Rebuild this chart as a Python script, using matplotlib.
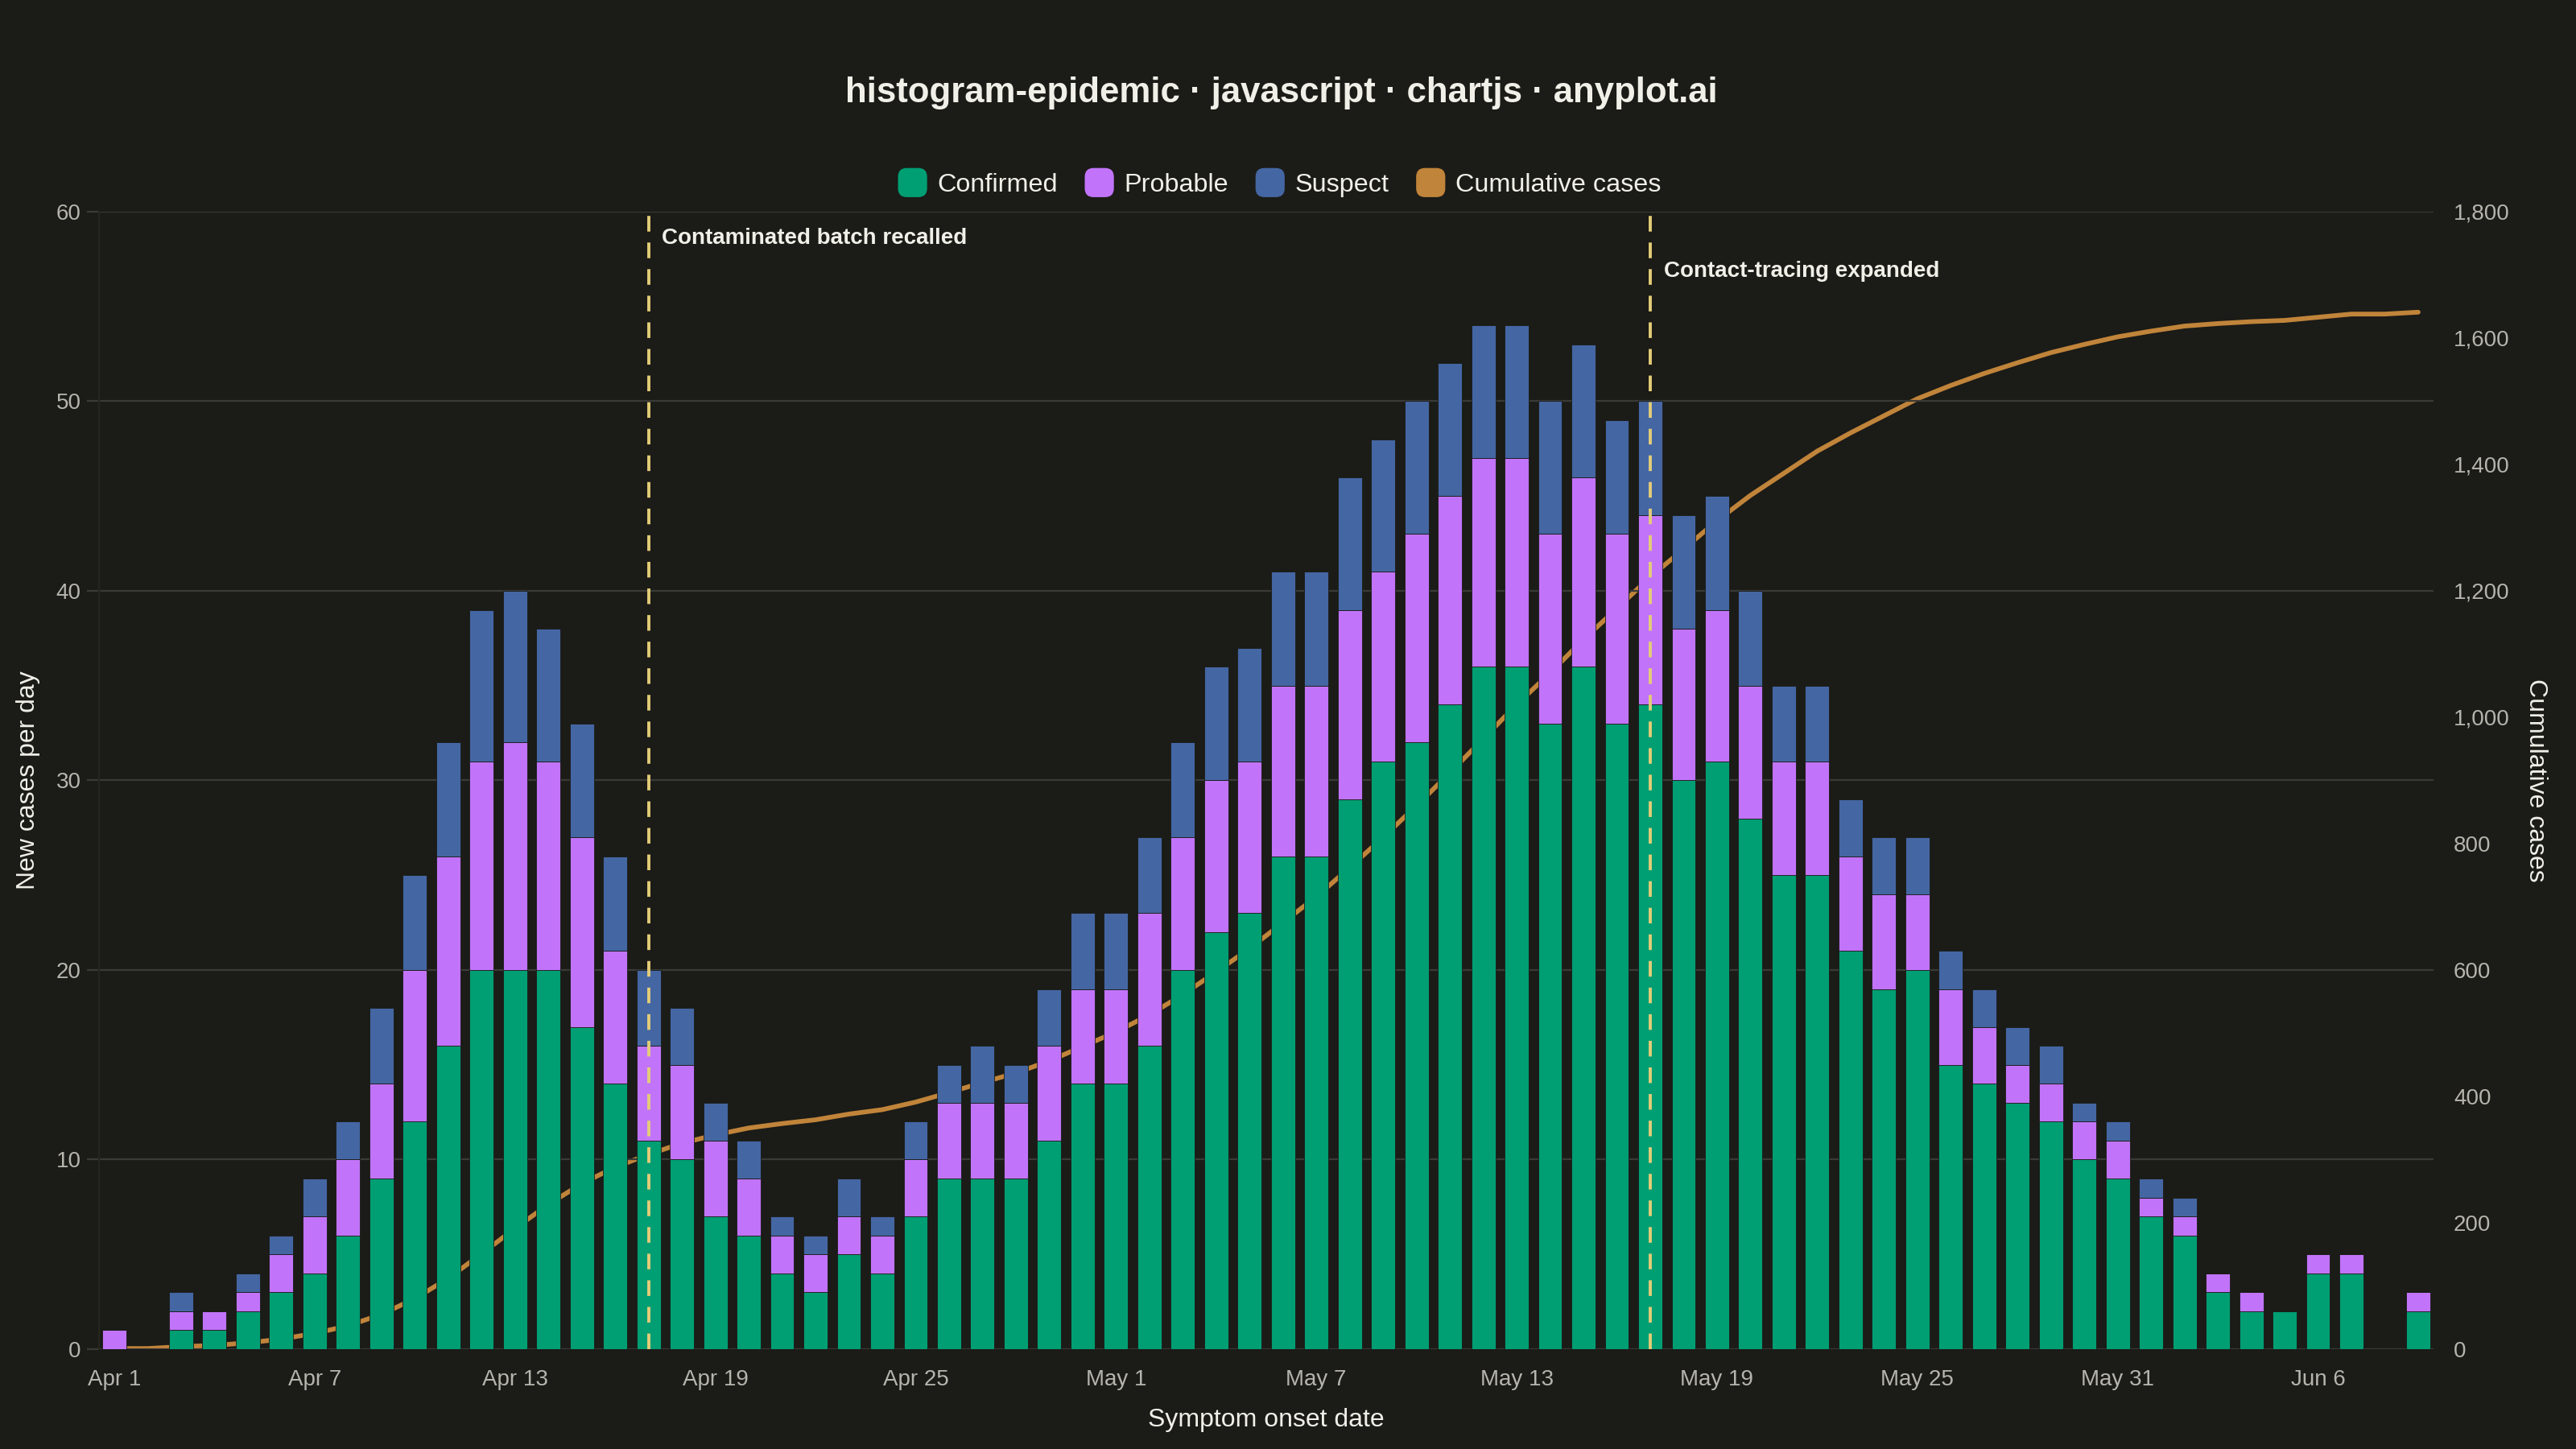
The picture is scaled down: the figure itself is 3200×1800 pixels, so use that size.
import numpy as np
import pandas as pd
import matplotlib
matplotlib.use("Agg")
import matplotlib.pyplot as plt
from matplotlib.patches import FancyBboxPatch
from matplotlib.legend_handler import HandlerPatch
from matplotlib.ticker import FuncFormatter

# daily counts by case class, Apr 1 .. Jun 9
dates = pd.date_range("2024-04-01", "2024-06-09", freq="D")
confirmed = [0, 0, 1, 1, 2, 3, 4, 6, 9, 12,
             16, 20, 20, 20, 17, 14, 11, 10, 7, 6,
             4, 3, 5, 4, 7, 9, 9, 9, 11, 14,
             14, 16, 20, 22, 23, 26, 26, 29, 31, 32,
             34, 36, 36, 33, 36, 33, 34, 30, 31, 28,
             25, 25, 21, 19, 20, 15, 14, 13, 12, 10,
             9, 7, 6, 3, 2, 2, 4, 4, 0, 2]
probable = [1, 0, 1, 1, 1, 2, 3, 4, 5, 8,
            10, 11, 12, 11, 10, 7, 5, 5, 4, 3,
            2, 2, 2, 2, 3, 4, 4, 4, 5, 5,
            5, 7, 7, 8, 8, 9, 9, 10, 10, 11,
            11, 11, 11, 10, 10, 10, 10, 8, 8, 7,
            6, 6, 5, 5, 4, 4, 3, 2, 2, 2,
            2, 1, 1, 1, 1, 0, 1, 1, 0, 1]
suspect = [0, 0, 1, 0, 1, 1, 2, 2, 4, 5,
           6, 8, 8, 7, 6, 5, 4, 3, 2, 2,
           1, 1, 2, 1, 2, 2, 3, 2, 3, 4,
           4, 4, 5, 6, 6, 6, 6, 7, 7, 7,
           7, 7, 7, 7, 7, 6, 6, 6, 6, 5,
           4, 4, 3, 3, 3, 2, 2, 2, 2, 1,
           1, 1, 1, 0, 0, 0, 0, 0, 0, 0]

events = ["Contaminated batch recalled", "Contact-tracing expanded"]
event_dates = ["2024-04-17", "2024-05-17"]
event_label_y = [58.6, 56.85]

BG = "#1b1b17"
TEXT = "#f0efe8"
MUTED = "#b5b4ad"
GRID = "#3a3a36"
C_CONF = "#009e73"
C_PROB = "#c174fa"
C_SUSP = "#4466a3"
C_CUM = "#c0843a"
C_EVENT = "#e3cc78"

plt.rcParams["font.family"] = ["Liberation Sans", "DejaVu Sans"]


class RoundedBox(HandlerPatch):
    def create_artists(self, legend, orig_handle, xdescent, ydescent,
                       width, height, fontsize, trans):
        s = height * 1.25
        x0 = -xdescent + (width - s) / 2
        y0 = -ydescent + (height - s) / 2
        p = FancyBboxPatch((x0 + s * 0.2, y0 + s * 0.2), s * 0.6, s * 0.6,
                           boxstyle=f"round,pad={s * 0.2},rounding_size={s * 0.3}",
                           facecolor=orig_handle.get_facecolor(),
                           edgecolor="none", transform=trans)
        return [p]


x = np.arange(len(dates))
conf = np.array(confirmed)
prob = np.array(probable)
susp = np.array(suspect)
cumulative = np.cumsum(conf + prob + susp)

fig = plt.figure(figsize=(32, 18), dpi=100, facecolor=BG)
ax = fig.add_axes([0.0384, 0.0689, 0.9063, 0.785])
ax.set_facecolor(BG)
ax2 = ax.twinx()

# cumulative line sits behind the bars
ax.set_zorder(2)
ax.patch.set_visible(False)
ax2.set_zorder(1)
ax2.plot(x, cumulative, color=C_CUM, lw=4.2, solid_capstyle="round")
ax2.set_ylim(0, 1800)
ax2.set_yticks(np.arange(0, 1801, 200))
ax2.yaxis.set_major_formatter(FuncFormatter(lambda v, _: f"{int(v):,}"))

bw = 0.72
ax.bar(x, conf, bw, color=C_CONF, edgecolor=BG, lw=0.6, zorder=3)
ax.bar(x, prob, bw, bottom=conf, color=C_PROB, edgecolor=BG, lw=0.6, zorder=3)
ax.bar(x, susp, bw, bottom=conf + prob, color=C_SUSP, edgecolor=BG, lw=0.6, zorder=3)

for name, d, ly in zip(events, event_dates, event_label_y):
    xi = dates.get_loc(pd.Timestamp(d))
    ax.axvline(xi, color=C_EVENT, lw=2.8, ls=(0, (5, 3.5)), zorder=5)
    ax.text(xi + 0.4, ly, name, color=TEXT, fontsize=20, fontweight="bold",
            va="center", ha="left", zorder=6)

ax.set_xlim(-0.46, len(dates) - 0.54)
ax.set_ylim(0, 60)
ax.set_yticks(np.arange(0, 61, 10))
tick_idx = x[::6]
ax.set_xticks(tick_idx)
ax.set_xticklabels([f"{dates[i]:%b} {dates[i].day}" for i in tick_idx])
ax.grid(axis="y", color=GRID, lw=1.6, zorder=0)
ax.set_axisbelow(True)

for a in (ax, ax2):
    for sp in a.spines.values():
        sp.set_visible(False)
    a.tick_params(length=0, labelsize=20, labelcolor=MUTED)
ax.spines["left"].set_visible(True)
ax.spines["left"].set_color("#26261f")
ax.spines["left"].set_linewidth(1.6)
ax.tick_params(axis="x", pad=18)
ax.tick_params(axis="y", length=11, width=1.6, color=GRID, pad=5)
ax2.tick_params(axis="y", pad=18)

ax.set_xlabel("Symptom onset date", fontsize=23, color=TEXT, labelpad=16)
ax.set_ylabel("New cases per day", fontsize=23, color=TEXT, labelpad=14)
ax2.set_ylabel("Cumulative cases", fontsize=23, color=TEXT, rotation=270,
               labelpad=34)

handles = [plt.Rectangle((0, 0), 1, 1, facecolor=c)
           for c in (C_CONF, C_PROB, C_SUSP, C_CUM)]
fig.legend(handles, ["Confirmed", "Probable", "Suspect", "Cumulative cases"],
           loc="center", bbox_to_anchor=(0.497, 0.873), ncol=4, frameon=False,
           fontsize=23.3, labelcolor=TEXT, handler_map={plt.Rectangle: RoundedBox()},
           handlelength=1.0, handleheight=1.0, handletextpad=0.45,
           columnspacing=1.1)

fig.text(0.4975, 0.936, "histogram-epidemic · javascript · chartjs · anyplot.ai",
         ha="center", va="center", fontsize=31.5, fontweight="bold", color=TEXT)

fig.savefig("out.png", dpi=100, facecolor=BG)
